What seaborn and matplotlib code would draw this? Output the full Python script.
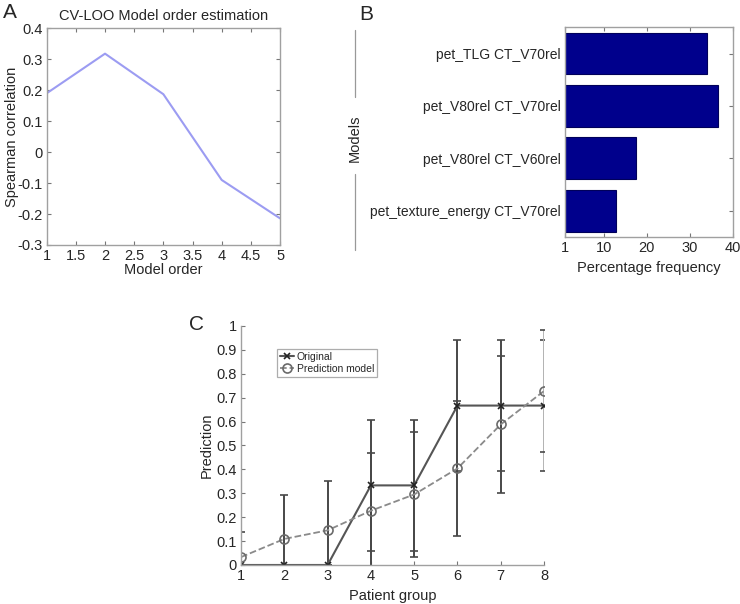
import numpy as np
import pandas as pd
import matplotlib.pyplot as plt
from matplotlib.lines import Line2D
import seaborn as sns

# Panel A: CV-LOO model order estimation
model_order = [1, 2, 3, 4, 5]
spearman = [0.19, 0.318, 0.187, -0.09, -0.214]

# Panel B: percentage frequency of selected models
models = ["pet_TLG CT_V70rel", "pet_V80rel CT_V70rel",
          "pet_V80rel CT_V60rel", "pet_texture_energy CT_V70rel"]
freq = [34.0, 36.5, 17.4, 12.8]

# Panel C: original vs prediction model per patient group
groups = [1, 2, 3, 4, 5, 6, 7, 8]
original = [0, 0, 0, 0.333, 0.333, 0.667, 0.667, 0.667]
original_err = [0, 0, 0, 0.274, 0.274, 0.274, 0.273, 0.273]
prediction = [0.033, 0.109, 0.145, 0.227, 0.295, 0.404, 0.588, 0.728]
prediction_err = [0.104, 0.183, 0.206, 0.241, 0.262, 0.283, 0.286, 0.256]

sns.set_style("ticks")
plt.rcParams["font.family"] = ["Liberation Sans", "DejaVu Sans"]
plt.rcParams["font.size"] = 10.5

fig = plt.figure(figsize=(7.4, 6.04), dpi=100)
spine_col = "#a0a0a0"


def style_axes(ax, box=True):
    for side in ["top", "right", "left", "bottom"]:
        ax.spines[side].set_color(spine_col)
        ax.spines[side].set_linewidth(1.0)
        ax.spines[side].set_visible(box or side in ["left", "bottom"])
    ax.tick_params(direction="in", length=3, width=0.8, color="#777777",
                   top=box, right=box, labelsize=10.5, pad=3)


# ---- A ----
axA = fig.add_axes([0.0631, 0.5944, 0.3153, 0.3588])
sns.lineplot(x=model_order, y=spearman, ax=axA, color="#9c9cf2", lw=1.5)
axA.set_xlim(1, 5)
axA.set_ylim(-0.3, 0.4)
axA.set_xticks(np.arange(1, 5.01, 0.5))
axA.set_xticklabels([f"{v:g}" for v in np.arange(1, 5.01, 0.5)])
yt = np.round(np.arange(-0.3, 0.41, 0.1), 1)
axA.set_yticks(yt)
axA.set_yticklabels([f"{v:g}" for v in yt])
axA.set_xlabel("Model order", labelpad=0)
axA.set_ylabel("Spearman correlation", labelpad=-1)
axA.set_title("CV-LOO Model order estimation", fontsize=10.5, pad=6)
style_axes(axA)

# ---- B ----
axB = fig.add_axes([0.7635, 0.6076, 0.227, 0.3472])
dfB = pd.DataFrame({"model": models, "freq": freq})
sns.barplot(data=dfB, y="model", x="freq", orient="h", ax=axB,
            color="#00008c", edgecolor="#00005a", linewidth=0.8,
            width=0.8, saturation=1)
axB.set_xlim(1, 40)
axB.set_xticks([1, 10, 20, 30, 40])
axB.set_xlabel("Percentage frequency", labelpad=4)
axB.set_ylabel("")
style_axes(axB)
axB.tick_params(axis="y", labelsize=10)

fig.text(355 / 740, 1 - 138 / 604, "Models", rotation=90,
         ha="center", va="center", fontsize=10.5)
for y0, y1 in [(30, 97), (174, 250)]:
    fig.add_artist(Line2D([355 / 740, 355 / 740], [1 - y0 / 604, 1 - y1 / 604],
                          color="#999999", lw=0.9))

# ---- C ----
axC = fig.add_axes([0.3257, 0.0646, 0.4095, 0.3957])
dfC = pd.DataFrame({"group": groups, "Original": original,
                    "Prediction model": prediction})
edge_groups = (min(groups), max(groups))
for vals, errs in [(original, original_err), (prediction, prediction_err)]:
    eb = axC.errorbar(groups, vals, yerr=errs, fmt="none", ecolor="#484848",
                      elinewidth=1.4, capsize=3, capthick=1.2)
    # bars sitting on the axis edges look faded in the original figure
    eb[2][0].set_color(["#b4b4b4" if g in edge_groups else "#484848"
                        for g in groups])
sns.lineplot(data=dfC, x="group", y="Original", ax=axC, color="#555555",
             lw=1.5, marker="x", markersize=4, markeredgecolor="#222222",
             markeredgewidth=1.2, label="Original")
sns.lineplot(data=dfC, x="group", y="Prediction model", ax=axC,
             color="#8a8a8a", lw=1.3, linestyle="--", marker="o",
             markersize=6.5, markerfacecolor="none", markeredgecolor="#6a6a6a",
             markeredgewidth=1.2, label="Prediction model")
axC.set_xlim(1, 8)
axC.set_ylim(0, 1)
axC.set_xticks(groups)
ytc = np.round(np.arange(0, 1.01, 0.1), 1)
axC.set_yticks(ytc)
axC.set_yticklabels([f"{v:g}" for v in ytc])
axC.set_xlabel("Patient group", labelpad=4)
axC.set_ylabel("Prediction", labelpad=2)
style_axes(axC, box=False)
leg = axC.legend(loc="upper left", bbox_to_anchor=(0.118, 0.905),
                 fontsize=7.5, frameon=True, fancybox=False,
                 handlelength=1.4, handletextpad=0.2, borderpad=0.3,
                 labelspacing=0.2, borderaxespad=0)
leg.get_frame().set_edgecolor("#999999")
leg.get_frame().set_linewidth(0.9)

# panel letters
fig.text(10 / 740, 1 - 12 / 604, "A", fontsize=15, ha="center", va="center")
fig.text(366 / 740, 1 - 15 / 604, "B", fontsize=15, ha="center", va="center")
fig.text(196 / 740, 1 - 324 / 604, "C", fontsize=15, ha="center", va="center")

fig.savefig("out.png", dpi=100)
